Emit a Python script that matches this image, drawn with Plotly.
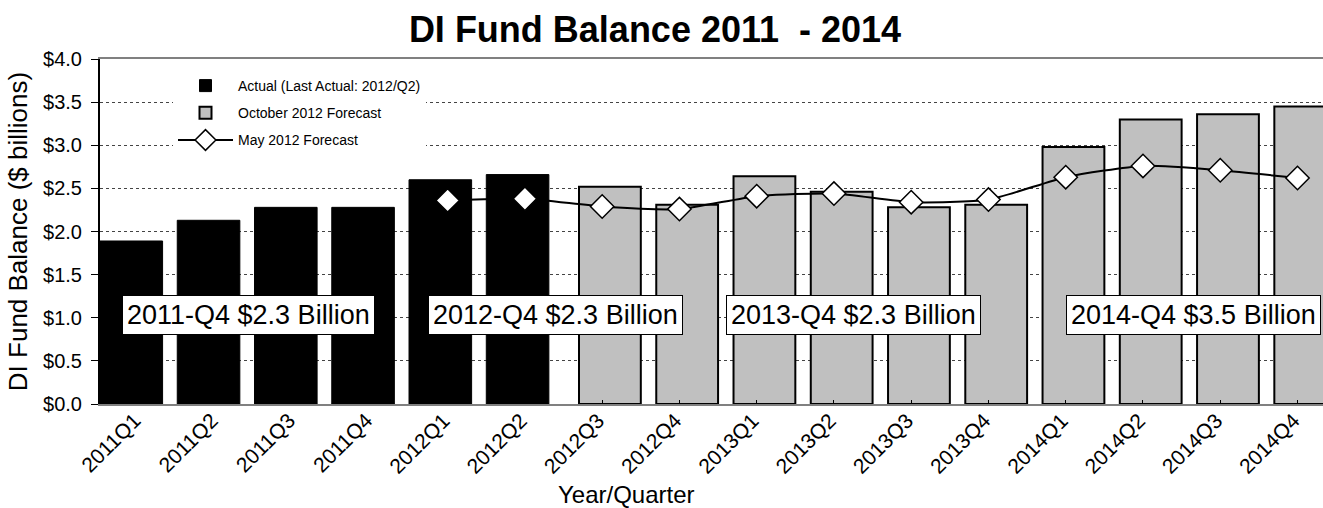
import plotly.graph_objects as go

quarters = ["2011Q1", "2011Q2", "2011Q3", "2011Q4", "2012Q1", "2012Q2", "2012Q3", "2012Q4",
            "2013Q1", "2013Q2", "2013Q3", "2013Q4", "2014Q1", "2014Q2", "2014Q3", "2014Q4"]

actual_q = quarters[:6]
actual_vals = [1.89, 2.13, 2.28, 2.28, 2.60, 2.66]

oct_q = quarters[6:]
oct_vals = [2.52, 2.31, 2.64, 2.46, 2.28, 2.31, 2.98, 3.30, 3.36, 3.45]

may_q = quarters[4:]
may_vals = [2.36, 2.38, 2.29, 2.26, 2.41, 2.44, 2.34, 2.37, 2.63, 2.76, 2.71, 2.62]

ann_text = ["2011-Q4 $2.3 Billion", "2012-Q4 $2.3 Billion", "2013-Q4 $2.3 Billion", "2014-Q4 $3.5 Billion"]
ann_x = [1.42, 5.4, 9.25, 13.65]
ann_y = [1.03, 1.03, 1.03, 1.03]

FONT = "Liberation Sans, Arial, sans-serif"

L, T, B = 100, 59, 104
PW, PH = 1323 - L, 508 - T - B


def px_x(p):
    return (p - L) / PW


def px_y(p):
    return (508 - B - p) / PH


fig = go.Figure()
fig.add_trace(go.Bar(
    x=actual_q, y=actual_vals, name="Actual (Last Actual: 2012/Q2)",
    marker=dict(color="black", line=dict(color="black", width=1)),
    width=0.81, offset=-0.5, legendgroup="a",
))
fig.add_trace(go.Bar(
    x=oct_q, y=oct_vals, name="October 2012 Forecast",
    marker=dict(color="#C0C0C0", line=dict(color="black", width=2)),
    width=0.8, offset=-0.3, legendgroup="b",
))
fig.add_trace(go.Scatter(
    x=may_q, y=may_vals, name="May 2012 Forecast", mode="lines+markers",
    line=dict(color="black", width=2, shape="spline", smoothing=0.6),
    marker=dict(symbol="diamond", size=18, color="white", line=dict(color="black", width=1.5)),
    legendgroup="c",
))

annotations = []
for t, x, y in zip(ann_text, ann_x, ann_y):
    annotations.append(dict(
        x=x, y=y, xref="x", yref="y", text=t, showarrow=False,
        font=dict(family=FONT, size=27, color="black"),
        bgcolor="white", bordercolor="black", borderwidth=1, borderpad=4,
    ))
annotations.append(dict(
    x=px_x(626), y=px_y(494), xref="paper", yref="paper", text="Year/Quarter", showarrow=False,
    xanchor="center", yanchor="middle",
    font=dict(family=FONT, size=24, color="black"),
))

fig.update_layout(
    width=1323, height=508,
    margin=dict(l=L, r=0, t=T, b=B, autoexpand=False),
    paper_bgcolor="white", plot_bgcolor="white",
    font=dict(family=FONT, color="black"),
    barmode="overlay",
    title=dict(text="<b>DI Fund Balance 2011  - 2014</b>", x=655 / 1323, xanchor="center",
               y=(508 - 29) / 508, yanchor="middle", yref="container",
               font=dict(family=FONT, size=36, color="black")),
    showlegend=True,
    legend=dict(x=px_x(173), xanchor="left", y=px_y(70), yanchor="top",
                bgcolor="white", borderwidth=0, itemwidth=55, tracegroupgap=6,
                font=dict(family=FONT, size=14, color="black")),
    annotations=annotations,
    shapes=[dict(type="rect", xref="paper", yref="paper",
                 x0=px_x(113), x1=px_x(487),
                 y0=px_y(175), y1=px_y(62),
                 fillcolor="white", line=dict(width=0), layer="between")],
)

fig.update_xaxes(
    type="category", categoryorder="array", categoryarray=quarters,
    range=[-0.5, 15.33], automargin=False,
    showline=True, linecolor="#808080", linewidth=2, mirror=True,
    ticks="inside", ticklen=4, tickcolor="black",
    tickangle=-45, tickfont=dict(family=FONT, size=21, color="black"),
    ticklabelstandoff=-6, ticklabelshift=-4,
    showgrid=False,
)
fig.update_yaxes(
    range=[0, 4], dtick=0.5, tickprefix="$", tickformat=".1f", automargin=False,
    showline=True, linecolor="black", linewidth=2,
    ticks="outside", ticklen=7, tickcolor="black", ticklabelstandoff=5,
    tickfont=dict(family=FONT, size=20, color="black"),
    showgrid=True, gridcolor="#444444", gridwidth=1, griddash="dot",
    title=dict(text="DI Fund Balance ($ billions)", font=dict(family=FONT, size=26, color="black"), standoff=8),
    zeroline=False,
)

fig.write_html("out.html", config={"displayModeBar": False},
               post_script="document.body.style.margin='0';document.body.style.overflow='hidden';")
